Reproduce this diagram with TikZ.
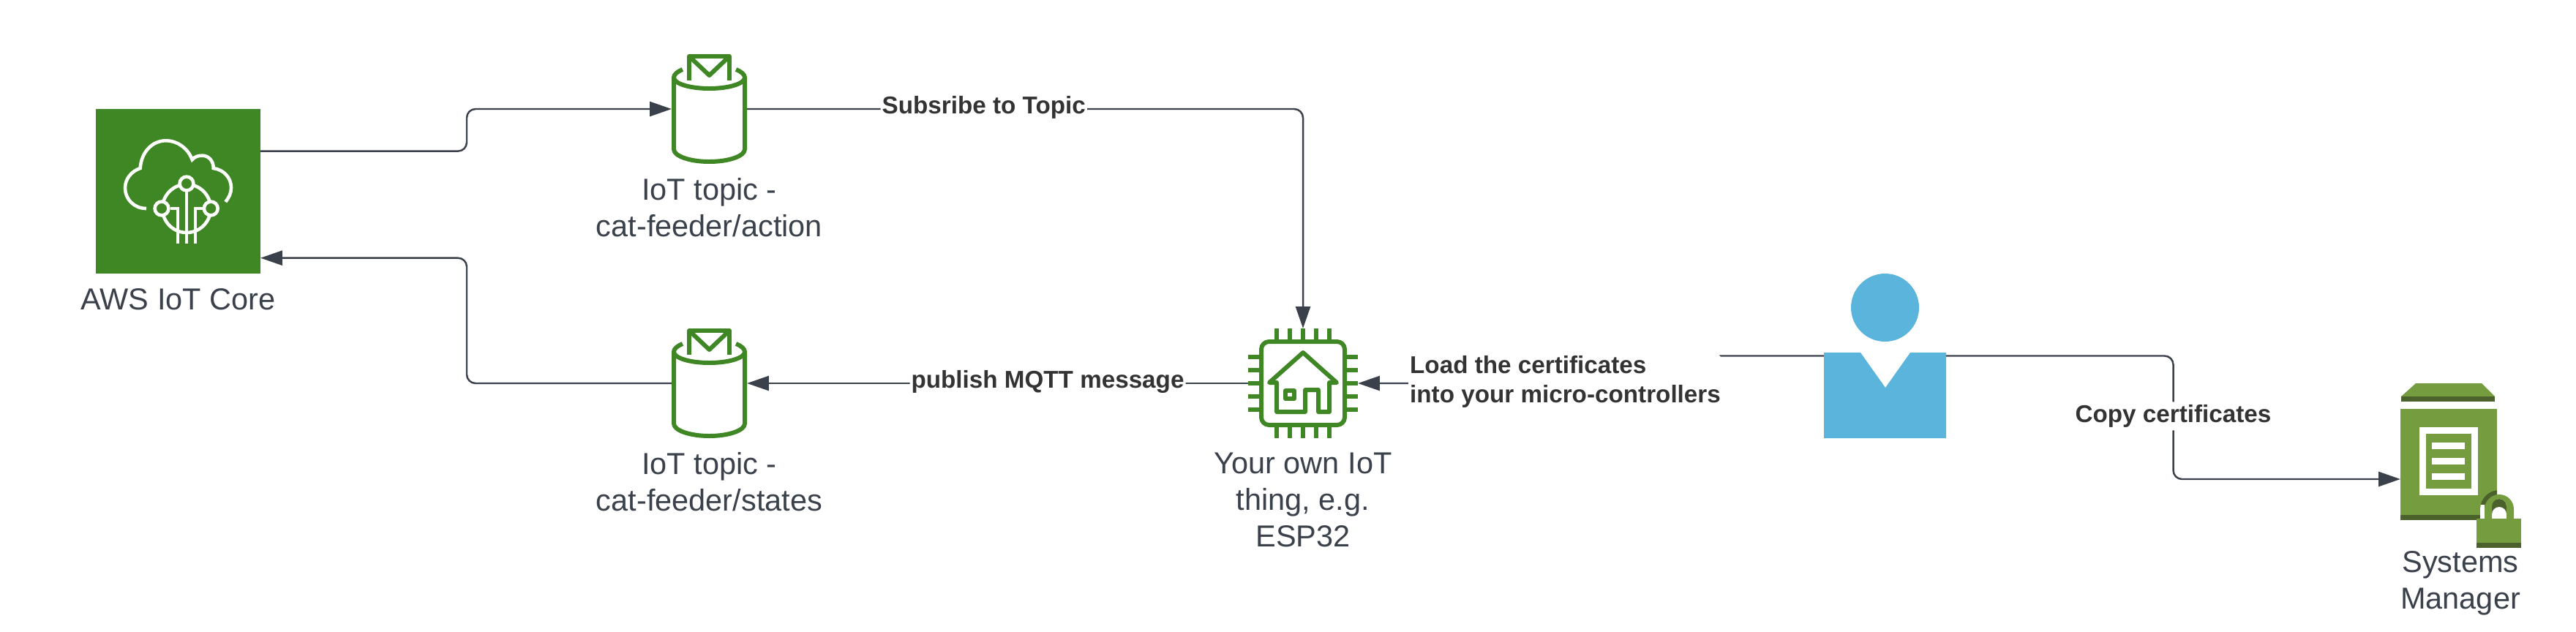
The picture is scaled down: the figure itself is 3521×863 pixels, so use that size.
\documentclass[tikz,border=0pt]{standalone}
\usepackage{fontspec}
\setmainfont{Liberation Sans}
\usetikzlibrary{arrows.meta}

\definecolor{coregreen}{HTML}{3F8624}
\definecolor{ssmgreen}{HTML}{759C3E}
\definecolor{ssmdark}{HTML}{4B612C}
\definecolor{personblue}{HTML}{5AB4DB}
\definecolor{flowgray}{HTML}{3A414A}
\definecolor{labelgray}{HTML}{333333}

\begin{document}
\begin{tikzpicture}[x=0.01cm,y=-0.01cm]
      \tikzset{
        slot/.style={inner sep=0pt,outer sep=0pt},
        caption/.style={align=center,text=flowgray,font=\fontsize{11.8}{14.2}\selectfont},
        flow/.style={draw=flowgray,line width=.7pt,rounded corners=3.4pt,-{Triangle[length=8.5pt,width=5.7pt]}},
        flowlabel/.style={fill=white,align=left,text=labelgray,inner xsep=.2mm,inner ysep=.4mm,yshift=.6pt,font=\fontsize{9.45}{11.4}\selectfont\bfseries},
        greenline/.style={draw=coregreen,line width=1.7pt,line join=round},
        whiteline/.style={draw=white,line width=1.3pt},
        pics/topic/.style={code={
          \draw[greenline,line cap=butt] (-36.5,-54) .. controls (-44,-51) and (-48.5,-47) .. (-48.5,-43)
            arc[start angle=180,end angle=0,x radius=48.5,y radius=15]
            .. controls (48.5,-47) and (44,-51) .. (36.5,-54);
          \draw[greenline] (-48.5,-43) -- (-48.5,55) arc[start angle=180,end angle=0,x radius=48.5,y radius=17] -- (48.5,-43);
          \draw[greenline] (-27.5,-39) -- (-27.5,-72) -- (27.5,-72) -- (27.5,-39);
          \draw[greenline] (-27.5,-72) -- (0,-46) -- (27.5,-72);
        }}
      }

      \useasboundingbox (0,0) rectangle (3521,863);

      \node[slot,fill=coregreen,minimum width=2.25cm,minimum height=2.25cm] (core) at (243.5,261.5) {};
      \node[slot,minimum width=1.03cm,minimum height=1.5cm] (topicA) at (969.5,149) {};
      \node[slot,minimum width=1.03cm,minimum height=1.5cm] (topicB) at (969.5,524) {};
      \node[slot,minimum width=1.5cm,minimum height=1.5cm] (thing) at (1781,524) {};
      \node[slot,minimum width=1.67cm,minimum height=2.25cm] (person) at (2576.5,486.5) {};
      \node[slot,minimum width=1.32cm,minimum height=1.12cm] (ssm) at (3347,655) {};

      \coordinate (busA) at (638,177);
      \coordinate (busB) at (638,439);
      \coordinate (busR) at (2139.5,524);
      \coordinate (busS) at (2970.5,571);

      \draw[whiteline] (200,285) .. controls (183,285) and (171,272) .. (171,257)
        .. controls (171,244) and (180,234) .. (191.7,230)
        .. controls (193,208) and (208,192.3) .. (226.7,192.3)
        .. controls (243,192.3) and (257,203) .. (262.7,218.3)
        .. controls (266,214) and (271,212.7) .. (276.7,212.7)
        .. controls (285,212.7) and (292,220) .. (291.7,230)
        .. controls (306,232) and (316,243) .. (316,256.7)
        .. controls (316,264) and (313,270) .. (308.3,276);
      \draw[whiteline] (255,285) circle[radius=33];
      \draw[whiteline] (255,251) -- (255,333);
      \draw[whiteline] (233,285) -- (243,285) -- (243,333);
      \draw[whiteline] (279,285) -- (267,285) -- (267,333);
      \draw[whiteline,fill=coregreen] (255,251) circle[radius=9.4];
      \draw[whiteline,fill=coregreen] (221,285) circle[radius=9.4];
      \draw[whiteline,fill=coregreen] (288.3,285) circle[radius=9.4];

      \pic at (topicA.center) {topic};
      \pic at (topicB.center) {topic};

      \draw[greenline,rounded corners=3pt] (1724,467) rectangle (1838,581);
      \draw[greenline] (1745,449) -- (1745,464) (1763,449) -- (1763,464) (1781,449) -- (1781,464) (1799,449) -- (1799,464) (1817,449) -- (1817,464);
      \draw[greenline] (1745,584) -- (1745,599) (1763,584) -- (1763,599) (1781,584) -- (1781,599) (1799,584) -- (1799,599) (1817,584) -- (1817,599);
      \draw[greenline] (1706,488) -- (1721,488) (1706,506) -- (1721,506) (1706,524) -- (1721,524) (1706,542) -- (1721,542) (1706,560) -- (1721,560);
      \draw[greenline] (1841,488) -- (1856,488) (1841,506) -- (1856,506) (1841,524) -- (1856,524) (1841,542) -- (1856,542) (1841,560) -- (1856,560);
      \draw[greenline] (1745,523) -- (1735,523) -- (1781,482) -- (1827,523) -- (1817,523) -- (1817,563) -- (1802,563) -- (1802,533) -- (1784,533) -- (1784,563) -- (1745,563) -- cycle;
      \draw[greenline] (1757,534) rectangle (1769,545);

      \fill[personblue] (2576.5,420.5) circle[radius=46.5];
      \fill[personblue] (2493,482) -- (2543,482) -- (2577,530) -- (2611,482) -- (2660,482) -- (2660,599) -- (2493,599) -- cycle;

      \fill[ssmgreen] (3302,524) -- (3392,524) -- (3410,542) -- (3282,542) -- cycle;
      \fill[ssmdark] (3282,542) rectangle (3410,549);
      \fill[ssmgreen] (3281,559) rectangle (3413,704);
      \fill[ssmdark] (3281,704) rectangle (3413,711);
      \fill[white] (3307,584) rectangle (3387,677);
      \fill[ssmgreen] (3316,593) rectangle (3378,668);
      \fill[white] (3324,605) rectangle (3369,614);
      \fill[white] (3324,626) rectangle (3369,635);
      \fill[white] (3324,647) rectangle (3369,656);
      \begin{scope}
        \clip (3281,559) rectangle (3413,711);
        \fill[ssmdark] (3416,696) circle[radius=26];
        \clip (3385,690) rectangle (3396,712);
        \fill[white] (3416,696) circle[radius=26];
        \fill[white] (3390,696) rectangle (3396,712);
      \end{scope}
      \fill[ssmdark] (3406,709) -- (3406,692) arc[start angle=180,end angle=360,radius=10] -- (3426,709) -- cycle;
      \fill[white] (3406,709) -- (3406,703) arc[start angle=180,end angle=360,radius=10] -- (3426,709) -- cycle;
      \fill[ssmgreen] (3396,709) -- (3396,696) arc[start angle=180,end angle=360,radius=20] -- (3436,709) -- (3426,709) -- (3426,692) arc[start angle=360,end angle=180,radius=10] -- (3406,709) -- cycle;
      \fill[ssmgreen] (3385,709) rectangle (3446,742);
      \fill[ssmdark] (3385,742) rectangle (3446,749);

      \draw[flow] (core.26.7) -| (busA) |- (topicA.west);
      \draw[flow] (topicB.west) -| (busB) |- (core.-39.4);
      \draw[flow] (topicA.east) -| node[flowlabel,pos=.213] (subLbl) {Subsribe to Topic} (thing.north);
      \draw[flow] (thing.west) -- node[flowlabel,pos=.4] (pubLbl) {publish MQTT message} (topicB.east);
      \draw[flow] (person.west) -| (busR) node[flowlabel] (loadLbl) {Load the certificates\\into your micro-controllers} -- (thing.east);
      \draw[flow] (person.east) -| (busS) node[flowlabel] (copyLbl) {Copy certificates} |- (ssm.west);

      \node[caption] (coreCap) at (243.5,409) {AWS IoT Core};
      \node[caption] (topicACap) at (969.5,284) {IoT topic -\\cat-feeder/action};
      \node[caption] (topicBCap) at (969.5,659) {IoT topic -\\cat-feeder/states};
      \node[caption] (thingCap) at (1781,683.5) {Your own IoT\\thing, e.g.\\ESP32};
      \node[caption] (ssmCap) at (3363,797) {Systems\\Manager};
    \end{tikzpicture}
\end{document}
